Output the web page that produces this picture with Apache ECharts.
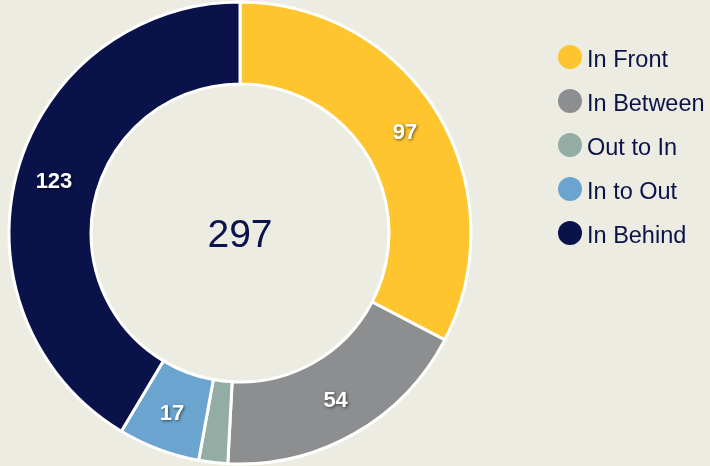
<!DOCTYPE html>
<html>
<head>
<meta charset="utf-8">
<script src="https://cdn.jsdelivr.net/npm/echarts@6/dist/echarts.min.js"></script>
<style>
  html, body { margin: 0; padding: 0; background: #EDECE2; }
  #chart { width: 710px; height: 466px; }
</style>
</head>
<body>
<div id="chart"></div>
<script>
// Positions where shots were taken from, with counts
const categories = ['In Front', 'In Between', 'Out to In', 'In to Out', 'In Behind'];
const counts = [97, 54, 6, 17, 123];
const colors = ['#FEC52E', '#8D8E90', '#93ADA4', '#6BA5CF', '#0A124A'];
// Slices below this count get no label
const minLabelled = 10;

const total = counts.reduce((a, b) => a + b, 0);
const fontFamily = 'Liberation Sans, Arial, sans-serif';

const chart = echarts.init(document.getElementById('chart'), null, { renderer: 'canvas' });
chart.setOption({
  backgroundColor: '#EDECE2',
  animation: false,
  color: colors,
  legend: {
    orient: 'vertical',
    left: 558,
    top: 41,
    padding: 0,
    icon: 'circle',
    itemWidth: 24,
    itemHeight: 24,
    itemGap: 12,
    itemStyle: { borderWidth: 0 },
    data: categories,
    formatter: name => '{t|' + name + '}',
    textStyle: {
      rich: {
        t: {
          color: '#0A124A',
          fontSize: 23.5,
          lineHeight: 24,
          fontFamily,
          padding: [8, 0, 0, 0]
        }
      }
    }
  },
  graphic: [{
    type: 'text',
    x: 240,
    y: 236,
    style: {
      text: String(total),
      fill: '#0A124A',
      fontSize: 39,
      fontFamily,
      align: 'center',
      verticalAlign: 'middle'
    }
  }],
  series: [{
    type: 'pie',
    center: [240, 233],
    radius: [149, 231],
    startAngle: 90,
    clockwise: true,
    avoidLabelOverlap: false,
    itemStyle: { borderColor: '#FFFFFF', borderWidth: 3 },
    label: {
      show: true,
      position: 'inside',
      formatter: '{c}',
      color: '#FFFFFF',
      fontSize: 22,
      fontWeight: 'bold',
      fontFamily,
      textShadowColor: 'rgba(0,0,0,0.6)',
      textShadowBlur: 3,
      textShadowOffsetX: 1,
      textShadowOffsetY: 1
    },
    labelLine: { show: false },
    emphasis: { disabled: true },
    data: categories.map((name, i) => ({
      name,
      value: counts[i],
      label: { show: counts[i] >= minLabelled }
    }))
  }]
});
</script>
</body>
</html>
